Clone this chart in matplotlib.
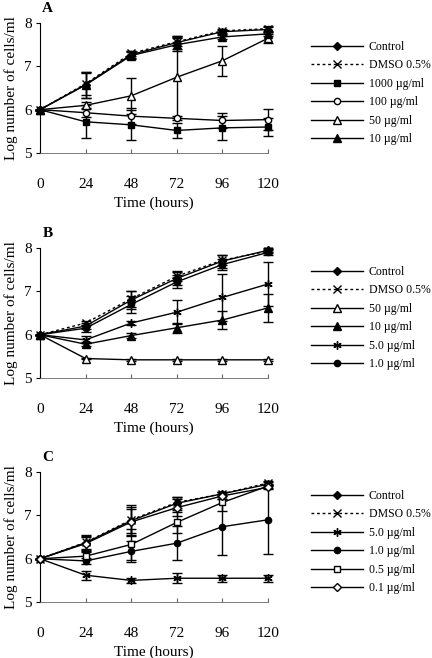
import matplotlib
matplotlib.use("Agg")
import matplotlib.pyplot as plt

plt.rcParams['font.family'] = ['Liberation Serif', 'DejaVu Serif']

hours = [0, 24, 48, 72, 96, 120]

# Panel A
a_labels = ["Control", "DMSO 0.5%", "1000 µg/ml", "100 µg/ml", "50 µg/ml", "10 µg/ml"]
a_control = [6.0, 6.58, 7.27, 7.55, 7.80, 7.85]
a_dmso = [6.0, 6.60, 7.30, 7.57, 7.82, 7.87]
a_1000 = [6.0, 5.72, 5.65, 5.52, 5.58, 5.60]
a_100 = [6.0, 5.93, 5.85, 5.80, 5.75, 5.77]
a_50 = [6.0, 6.10, 6.32, 6.75, 7.13, 7.65]
a_10 = [6.0, 6.57, 7.25, 7.50, 7.68, 7.75]
a_err_control = [0, 0.30, 0.08, 0.15, 0.05, 0.05]
a_err_dmso = [0, 0.25, 0.06, 0.10, 0.05, 0.05]
a_err_1000 = [0, 0.38, 0.35, 0.18, 0.28, 0.20]
a_err_100 = [0, 0.10, 0.18, 0.05, 0.18, 0.25]
a_err_50 = [0, 0.08, 0.42, 0.95, 0.35, 0.10]
a_err_10 = [0, 0.30, 0.08, 0.15, 0.05, 0.05]

# Panel B
b_labels = ["Control", "DMSO 0.5%", "50 µg/ml", "10 µg/ml", "5.0 µg/ml", "1.0 µg/ml"]
b_control = [6.0, 6.20, 6.80, 7.30, 7.70, 7.95]
b_dmso = [6.0, 6.27, 6.83, 7.35, 7.72, 7.93]
b_50 = [6.0, 5.45, 5.42, 5.42, 5.42, 5.42]
b_10 = [6.0, 5.78, 5.98, 6.16, 6.34, 6.62]
b_5 = [6.0, 5.88, 6.27, 6.52, 6.86, 7.17]
b_1 = [6.0, 6.15, 6.70, 7.22, 7.62, 7.90]
b_err_control = [0, 0.06, 0.20, 0.15, 0.15, 0.04]
b_err_dmso = [0, 0.05, 0.18, 0.12, 0.12, 0.04]
b_err_50 = [0, 0.02, 0.02, 0.02, 0.02, 0.02]
b_err_10 = [0, 0.05, 0.05, 0.12, 0.20, 0.33]
b_err_5 = [0, 0.08, 0.05, 0.28, 0.55, 0.50]
b_err_1 = [0, 0.08, 0.20, 0.15, 0.12, 0.05]

# Panel C
c_labels = ["Control", "DMSO 0.5%", "5.0 µg/ml", "1.0 µg/ml", "0.5 µg/ml", "0.1 µg/ml"]
c_control = [6.0, 6.37, 6.88, 7.28, 7.50, 7.72]
c_dmso = [6.0, 6.38, 6.90, 7.30, 7.50, 7.75]
c_5 = [6.0, 5.62, 5.50, 5.55, 5.55, 5.55]
c_1 = [6.0, 5.95, 6.17, 6.36, 6.74, 6.90]
c_05 = [6.0, 6.06, 6.33, 6.84, 7.30, 7.68]
c_01 = [6.0, 6.35, 6.85, 7.18, 7.45, 7.65]
c_err_control = [0, 0.18, 0.35, 0.15, 0.05, 0.05]
c_err_dmso = [0, 0.15, 0.30, 0.12, 0.05, 0.05]
c_err_5 = [0, 0.10, 0.05, 0.12, 0.08, 0.08]
c_err_1 = [0, 0.06, 0.25, 0.40, 0.65, 0.80]
c_err_05 = [0, 0.10, 0.35, 0.25, 0.20, 0.05]
c_err_01 = [0, 0.15, 0.30, 0.20, 0.08, 0.05]

star = (6, 2, 0)
dots = (0, (2, 2))
styles_a = [("D", "k", "-"), ("x", "k", dots), ("s", "k", "-"), ("o", "w", "-"), ("^", "w", "-"), ("^", "k", "-")]
styles_b = [("D", "k", "-"), ("x", "k", dots), ("^", "w", "-"), ("^", "k", "-"), (star, "k", "-"), ("o", "k", "-")]
styles_c = [("D", "k", "-"), ("x", "k", dots), (star, "k", "-"), ("o", "k", "-"), ("s", "w", "-"), ("D", "w", "-")]
marker_sizes = {"D": 4.5, "s": 4.5, "o": 4.5, "^": 5.5, "x": 6}

panels = [
    ("A", [a_control, a_dmso, a_1000, a_100, a_50, a_10],
     [a_err_control, a_err_dmso, a_err_1000, a_err_100, a_err_50, a_err_10], a_labels, styles_a, 0.7675),
    ("B", [b_control, b_dmso, b_50, b_10, b_5, b_1],
     [b_err_control, b_err_dmso, b_err_50, b_err_10, b_err_5, b_err_1], b_labels, styles_b, 0.4255),
    ("C", [c_control, c_dmso, c_5, c_1, c_05, c_01],
     [c_err_control, c_err_dmso, c_err_5, c_err_1, c_err_05, c_err_01], c_labels, styles_c, 0.085),
]

fig = plt.figure(figsize=(4.32, 6.58), dpi=100)

for letter, series, errors, labels, styles, bottom in panels:
    ax = fig.add_axes([0.0926, bottom, 0.528, 0.1975])
    handles = []
    for ys, es, lab, (mk, fc, ls) in zip(series, errors, labels, styles):
        size = marker_sizes.get(mk, 6) if isinstance(mk, str) else 6
        ax.errorbar(hours, ys, yerr=es, color="k", ecolor="k", elinewidth=1.0,
                    capsize=3.6, capthick=1.0, linestyle="none", clip_on=False, zorder=2)
        h, = ax.plot(hours, ys, color="k", linestyle=ls, linewidth=1.0, marker=mk,
                     markersize=size, markerfacecolor=fc, markeredgecolor="k",
                     markeredgewidth=1.0, clip_on=False, label=lab, zorder=3)
        handles.append(h)
    ax.set_xlim(0, 120)
    ax.set_ylim(5, 8)
    ax.set_xticks(hours)
    ax.set_yticks([5, 6, 7, 8])
    for s in ("top", "right"):
        ax.spines[s].set_visible(False)
    ax.spines["left"].set_linewidth(0.8)
    ax.spines["bottom"].set_linewidth(0.6)
    ax.spines["bottom"].set_color("0.4")
    ax.tick_params(axis="x", direction="in", length=3, pad=18, labelsize=11, color="0.4")
    ax.tick_params(axis="y", direction="out", length=3, pad=3, labelsize=11)
    ax.set_xlabel("Time (hours)", fontsize=11, labelpad=4)
    ax.set_ylabel("Log number of cells/ml", fontsize=11, labelpad=4)
    ax.text(0.01, 1.06, letter, transform=ax.transAxes, fontsize=11, fontweight="bold",
            va="bottom", ha="left")
    ax.legend(handles=handles, loc="upper left", bbox_to_anchor=(1.168, 0.9),
              frameon=False, fontsize=8.5, handlelength=4.4, labelspacing=0.55,
              handletextpad=0.5, borderaxespad=0)

fig.savefig("out.png", dpi=100)
